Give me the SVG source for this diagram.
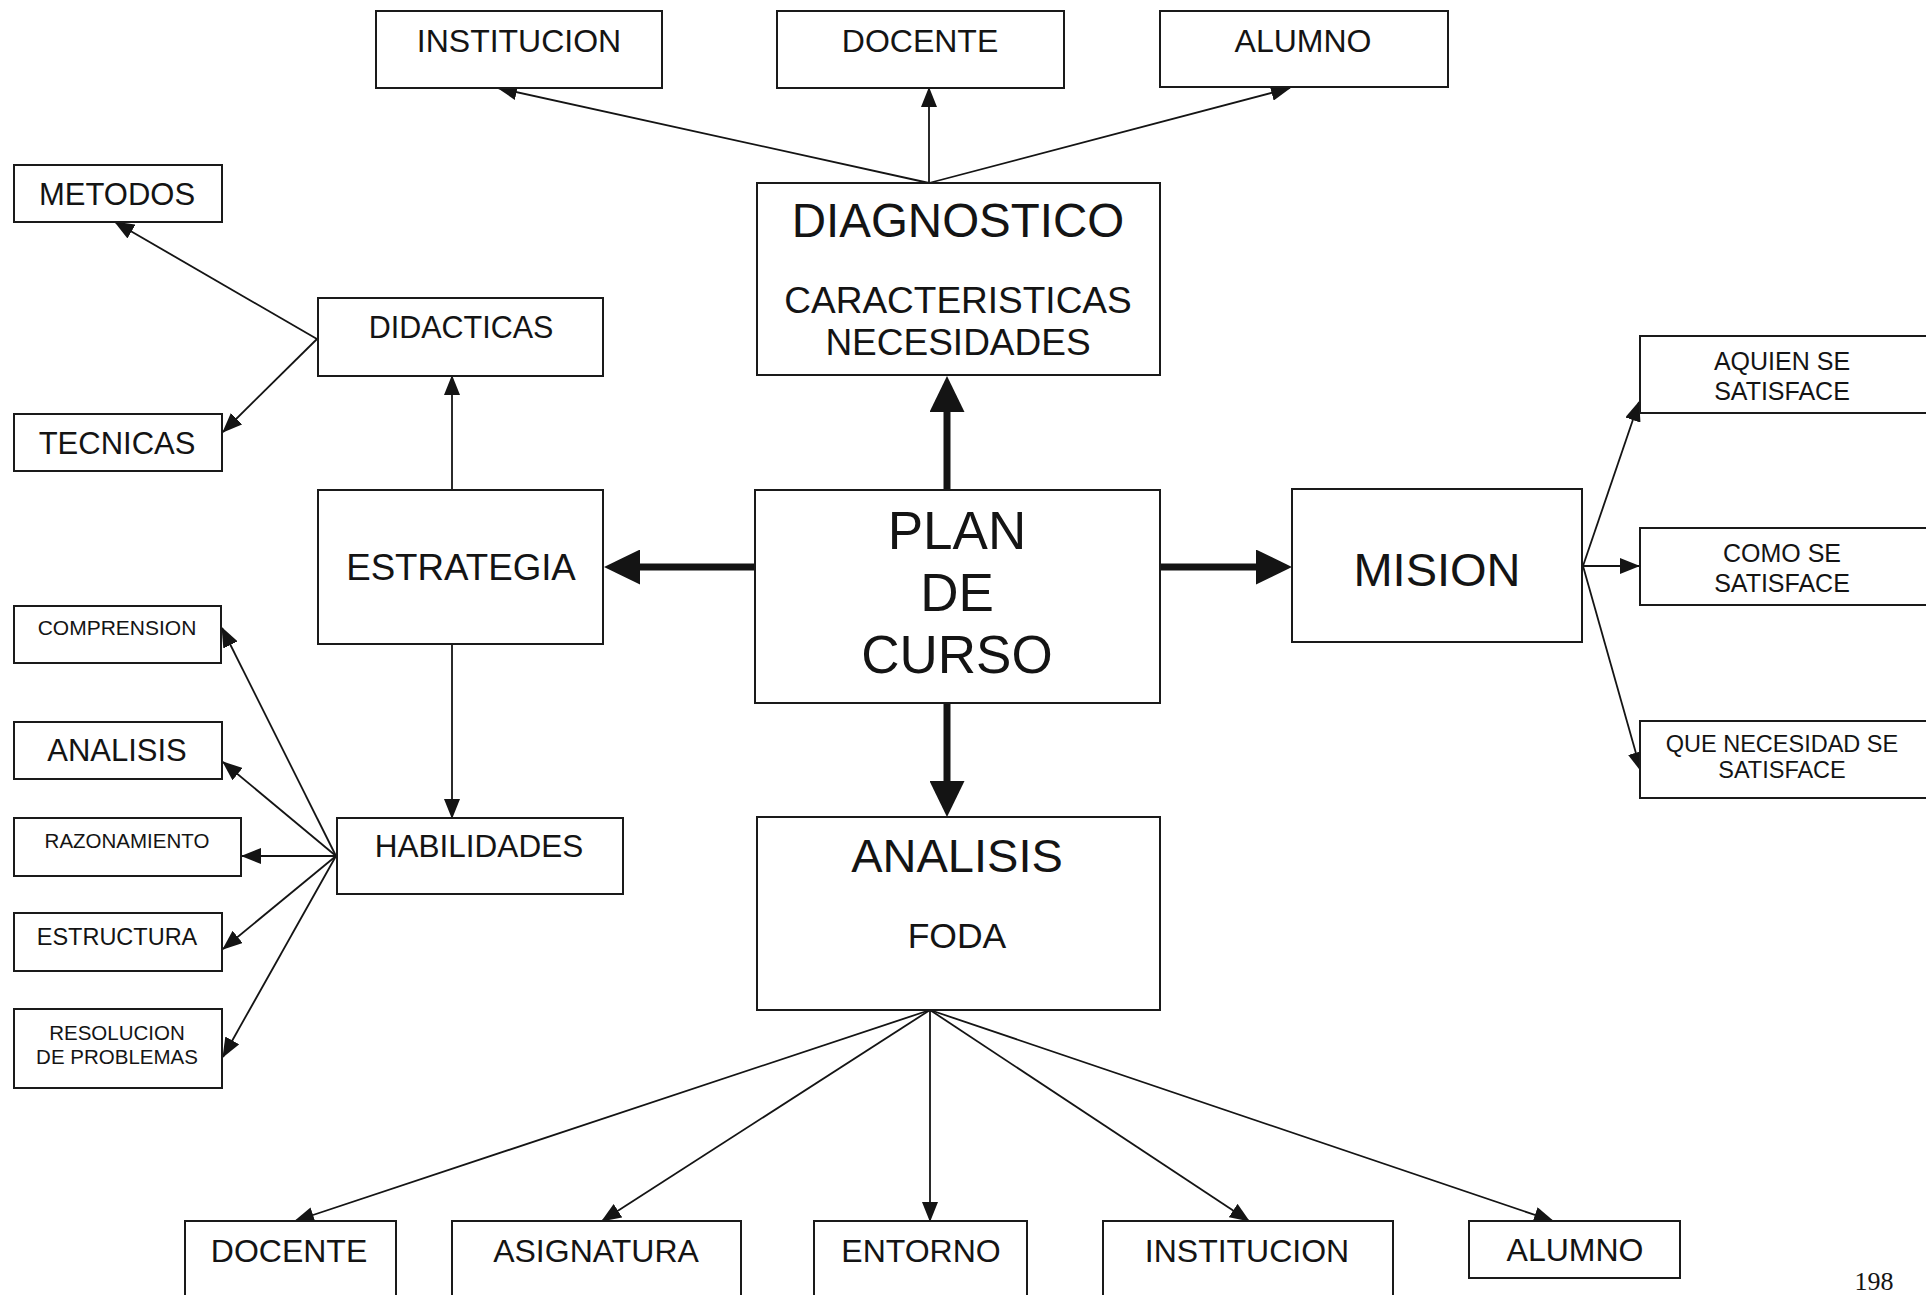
<svg xmlns="http://www.w3.org/2000/svg" width="1926" height="1295" viewBox="0 0 1926 1295">
  <style>
    .box { fill: #ffffff; stroke: #1a1a1a; stroke-width: 2; }
    .lbl { font-family: "Liberation Sans", Arial, sans-serif; fill: #141414; text-anchor: middle; }
    .thin { stroke: #141414; stroke-width: 1.8; fill: none; marker-end: url(#tip); }
    .thick { stroke: #141414; stroke-width: 7; fill: none; marker-end: url(#tipBig); }
  </style>
  <defs>
    <marker id="tip" markerUnits="userSpaceOnUse" markerWidth="20" markerHeight="16" refX="19" refY="8" orient="auto">
      <path d="M0,0 L20,8 L0,16 z" fill="#141414"/>
    </marker>
    <marker id="tipBig" markerUnits="userSpaceOnUse" markerWidth="36" markerHeight="35" refX="16" refY="17.5" orient="auto">
      <path d="M0,0 L36,17.5 L0,35 z" fill="#141414"/>
    </marker>
  </defs>
  <rect width="1926" height="1295" fill="#ffffff"/>

  <!-- connectors -->
  <g id="connectors">
    <!-- diagnostico fan-out -->
    <line class="thin" x1="929" y1="183" x2="498" y2="88"/>
    <line class="thin" x1="929" y1="183" x2="929" y2="88"/>
    <line class="thin" x1="929" y1="183" x2="1290" y2="88"/>
    <!-- central heavy arrows (end 20px short of the tip) -->
    <line class="thick" x1="947" y1="490" x2="947" y2="396"/>
    <line class="thick" x1="755" y1="567" x2="624" y2="567"/>
    <line class="thick" x1="1160" y1="567" x2="1272" y2="567"/>
    <line class="thick" x1="947" y1="703" x2="947" y2="797"/>
    <!-- estrategia branches -->
    <line class="thin" x1="452" y1="490" x2="452" y2="376"/>
    <line class="thin" x1="452" y1="644" x2="452" y2="818"/>
    <!-- didacticas -->
    <line class="thin" x1="317" y1="339" x2="115" y2="222"/>
    <line class="thin" x1="317" y1="339" x2="223" y2="432"/>
    <!-- habilidades -->
    <line class="thin" x1="336" y1="856" x2="222" y2="628"/>
    <line class="thin" x1="336" y1="856" x2="223" y2="762"/>
    <line class="thin" x1="336" y1="856" x2="242" y2="856"/>
    <line class="thin" x1="336" y1="856" x2="223" y2="949"/>
    <line class="thin" x1="336" y1="856" x2="223" y2="1057"/>
    <!-- mision -->
    <line class="thin" x1="1583" y1="566" x2="1639" y2="402"/>
    <line class="thin" x1="1583" y1="566" x2="1639" y2="566"/>
    <line class="thin" x1="1583" y1="566" x2="1641" y2="771"/>
    <!-- analisis fan-out -->
    <line class="thin" x1="930" y1="1010" x2="295" y2="1221"/>
    <line class="thin" x1="930" y1="1010" x2="602" y2="1221"/>
    <line class="thin" x1="930" y1="1010" x2="930" y2="1221"/>
    <line class="thin" x1="930" y1="1010" x2="1249" y2="1221"/>
    <line class="thin" x1="930" y1="1010" x2="1553" y2="1221"/>
  </g>

  <!-- top row -->
  <g id="top-institucion">
    <rect class="box" x="376" y="11" width="286" height="77"/>
    <text class="lbl" x="519" y="52" font-size="32">INSTITUCION</text>
  </g>
  <g id="top-docente">
    <rect class="box" x="777" y="11" width="287" height="77"/>
    <text class="lbl" x="920" y="52" font-size="32">DOCENTE</text>
  </g>
  <g id="top-alumno">
    <rect class="box" x="1160" y="11" width="288" height="76"/>
    <text class="lbl" x="1303" y="52" font-size="32">ALUMNO</text>
  </g>

  <!-- diagnostico -->
  <g id="diagnostico">
    <rect class="box" x="757" y="183" width="403" height="192"/>
    <text class="lbl" x="958" y="237" font-size="47.5">DIAGNOSTICO</text>
    <text class="lbl" x="958" y="313" font-size="37">CARACTERISTICAS</text>
    <text class="lbl" x="958" y="355" font-size="37">NECESIDADES</text>
  </g>

  <!-- plan de curso -->
  <g id="plan-de-curso">
    <rect class="box" x="755" y="490" width="405" height="213"/>
    <text class="lbl" x="957" y="549" font-size="53">PLAN</text>
    <text class="lbl" x="957" y="611" font-size="53">DE</text>
    <text class="lbl" x="957" y="673" font-size="53">CURSO</text>
  </g>

  <!-- estrategia branch -->
  <g id="estrategia">
    <rect class="box" x="318" y="490" width="285" height="154"/>
    <text class="lbl" x="461" y="580" font-size="36.7">ESTRATEGIA</text>
  </g>
  <g id="didacticas">
    <rect class="box" x="318" y="298" width="285" height="78"/>
    <text class="lbl" x="461" y="338" font-size="30.5">DIDACTICAS</text>
  </g>
  <g id="metodos">
    <rect class="box" x="14" y="165" width="208" height="57"/>
    <text class="lbl" x="117" y="205" font-size="31">METODOS</text>
  </g>
  <g id="tecnicas">
    <rect class="box" x="14" y="414" width="208" height="57"/>
    <text class="lbl" x="117" y="454" font-size="31">TECNICAS</text>
  </g>
  <g id="habilidades">
    <rect class="box" x="337" y="818" width="286" height="76"/>
    <text class="lbl" x="479" y="857" font-size="31.5">HABILIDADES</text>
  </g>
  <g id="comprension">
    <rect class="box" x="14" y="606" width="207" height="57"/>
    <text class="lbl" x="117" y="635" font-size="21">COMPRENSION</text>
  </g>
  <g id="analisis-hab">
    <rect class="box" x="14" y="722" width="208" height="57"/>
    <text class="lbl" x="117" y="761" font-size="31">ANALISIS</text>
  </g>
  <g id="razonamiento">
    <rect class="box" x="14" y="818" width="227" height="58"/>
    <text class="lbl" x="127" y="848" font-size="20.5">RAZONAMIENTO</text>
  </g>
  <g id="estructura">
    <rect class="box" x="14" y="913" width="208" height="58"/>
    <text class="lbl" x="117" y="945" font-size="23.5">ESTRUCTURA</text>
  </g>
  <g id="resolucion">
    <rect class="box" x="14" y="1009" width="208" height="79"/>
    <text class="lbl" x="117" y="1040" font-size="20.5">RESOLUCION</text>
    <text class="lbl" x="117" y="1064" font-size="20.5">DE PROBLEMAS</text>
  </g>

  <!-- mision branch -->
  <g id="mision">
    <rect class="box" x="1292" y="489" width="290" height="153"/>
    <text class="lbl" x="1437" y="586" font-size="47">MISION</text>
  </g>
  <g id="aquien">
    <rect class="box" x="1640" y="336" width="300" height="77"/>
    <text class="lbl" x="1782" y="370" font-size="25">AQUIEN SE</text>
    <text class="lbl" x="1782" y="400" font-size="25">SATISFACE</text>
  </g>
  <g id="como">
    <rect class="box" x="1640" y="528" width="300" height="77"/>
    <text class="lbl" x="1782" y="562" font-size="25">COMO SE</text>
    <text class="lbl" x="1782" y="592" font-size="25">SATISFACE</text>
  </g>
  <g id="que-necesidad">
    <rect class="box" x="1640" y="721" width="300" height="77"/>
    <text class="lbl" x="1782" y="752" font-size="23.5">QUE NECESIDAD SE</text>
    <text class="lbl" x="1782" y="778" font-size="23.5">SATISFACE</text>
  </g>

  <!-- analisis foda -->
  <g id="analisis-foda">
    <rect class="box" x="757" y="817" width="403" height="193"/>
    <text class="lbl" x="957" y="872" font-size="47">ANALISIS</text>
    <text class="lbl" x="957" y="948" font-size="35.5">FODA</text>
  </g>

  <!-- bottom row -->
  <g id="bottom-docente">
    <rect class="box" x="185" y="1221" width="211" height="90"/>
    <text class="lbl" x="289" y="1262" font-size="32">DOCENTE</text>
  </g>
  <g id="bottom-asignatura">
    <rect class="box" x="452" y="1221" width="289" height="90"/>
    <text class="lbl" x="596" y="1262" font-size="32">ASIGNATURA</text>
  </g>
  <g id="bottom-entorno">
    <rect class="box" x="814" y="1221" width="213" height="90"/>
    <text class="lbl" x="921" y="1262" font-size="32">ENTORNO</text>
  </g>
  <g id="bottom-institucion">
    <rect class="box" x="1103" y="1221" width="290" height="90"/>
    <text class="lbl" x="1247" y="1262" font-size="32">INSTITUCION</text>
  </g>
  <g id="bottom-alumno">
    <rect class="box" x="1469" y="1221" width="211" height="57"/>
    <text class="lbl" x="1575" y="1261" font-size="32">ALUMNO</text>
  </g>

  <!-- page number -->
  <text x="1874" y="1290" font-size="26" font-family="'Liberation Serif', 'Times New Roman', serif" fill="#141414" text-anchor="middle">198</text>
</svg>
